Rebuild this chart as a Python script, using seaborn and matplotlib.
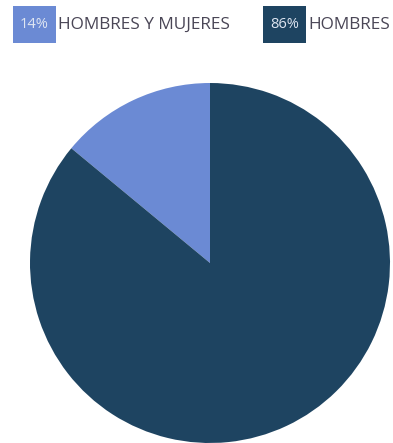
import matplotlib
matplotlib.use("Agg")
import matplotlib.pyplot as plt
from matplotlib.patches import Rectangle
import seaborn as sns

# Share of each group
categories = ["HOMBRES Y MUJERES", "HOMBRES"]
shares = [14, 86]
pct_labels = ["14%", "86%"]

sns.set_theme(style="white")
plt.rcParams["font.family"] = ["Open Sans", "DejaVu Sans"]
colors = sns.color_palette(["#6b8ad4", "#1e4461"])

fig = plt.figure(figsize=(3.93, 4.43), dpi=100)
fig.patch.set_facecolor("white")

W, H = 393, 443
# Pie area: square axes spanning x 30..390 px, y 83..443 px (from top)
ax = fig.add_axes([30 / W, 0 / H, 360 / W, 360 / H])
ax.pie(shares, colors=colors, startangle=90, counterclock=True,
       wedgeprops=dict(linewidth=0))
ax.set_xlim(-1, 1)
ax.set_ylim(-1, 1)
ax.set_aspect("equal")
ax.axis("off")

# Legend row: coloured boxes holding the percentage, then the label
box_x = [13, 263]
box_w, box_y0, box_y1 = 43, 6, 43
for x0, col, pct, cat in zip(box_x, colors, pct_labels, categories):
    fig.patches.append(Rectangle((x0 / W, 1 - box_y1 / H), box_w / W,
                                 (box_y1 - box_y0) / H, transform=fig.transFigure,
                                 facecolor=col, edgecolor="none"))
    fig.text((x0 + box_w / 2) / W, 1 - 25 / H, pct, color="#dfe6f2",
             fontsize=10.5, ha="center", va="center")
    fig.text((x0 + box_w + 2) / W, 1 - 25 / H, cat, color="#4a4656",
             fontsize=12.4, ha="left", va="center")

fig.savefig("out.png", dpi=100, facecolor="white")
